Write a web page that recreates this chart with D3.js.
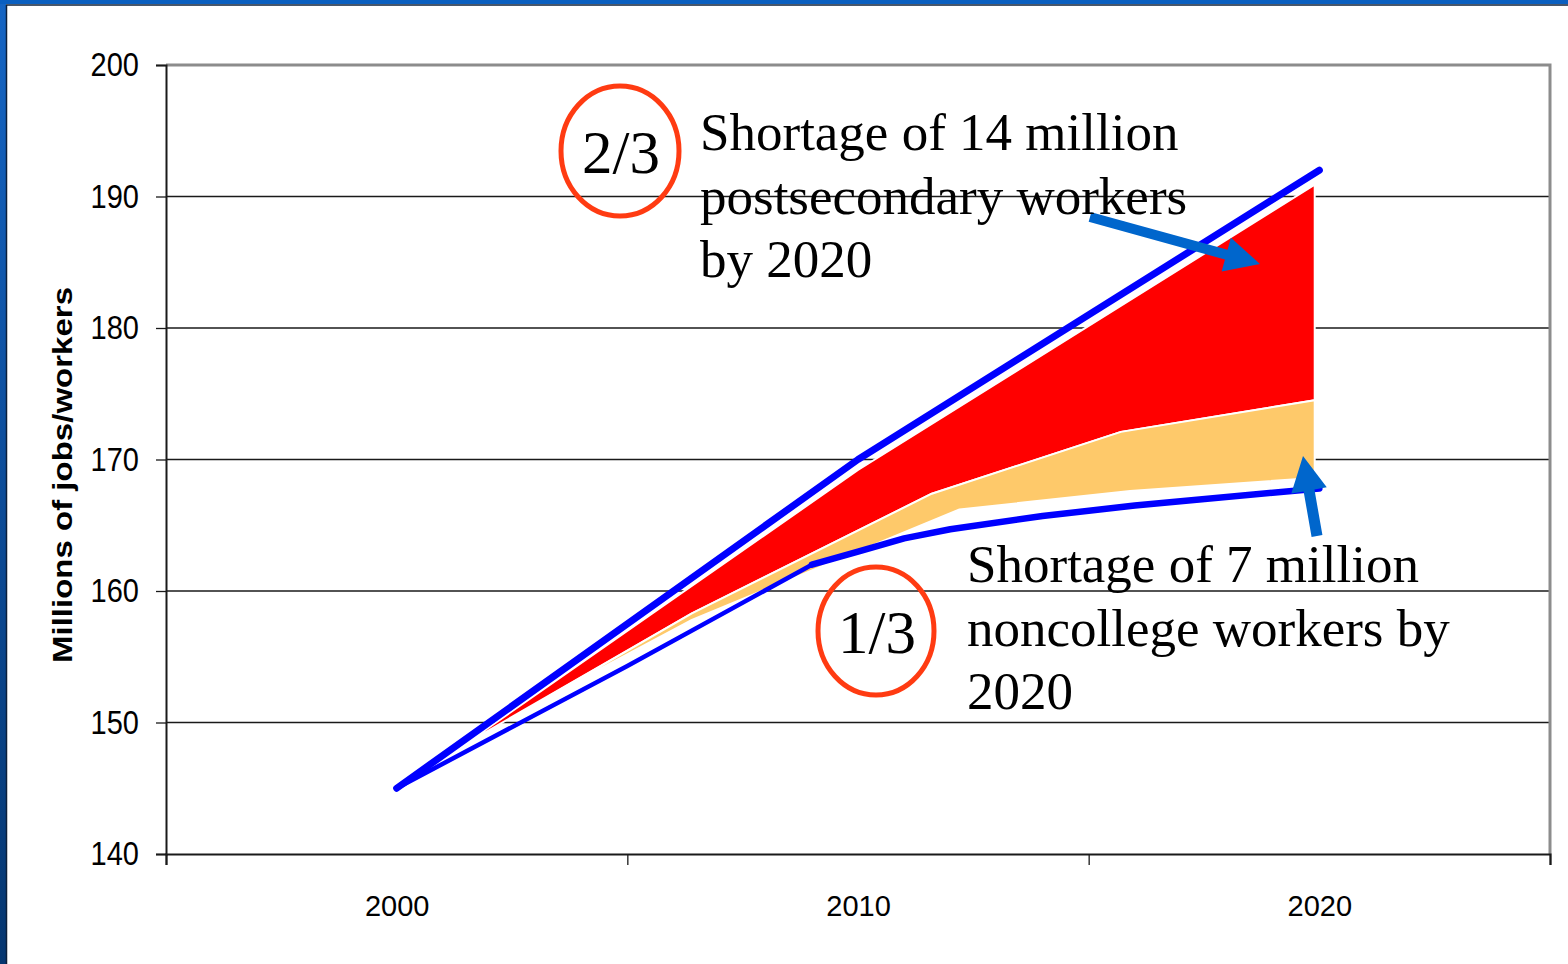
<!DOCTYPE html>
<html>
<head>
<meta charset="utf-8">
<script src="https://cdn.jsdelivr.net/npm/d3@7"></script>
<style>
  html, body { margin: 0; padding: 0; background: #ffffff; overflow: hidden; }
  svg { display: block; }
</style>
</head>
<body>
<svg id="chart" width="1568" height="964"></svg>
<script>
// ---- data -------------------------------------------------------------
const yearTicks  = [1995, 2005, 2015, 2025];      // category boundaries on the x axis
const yearLabels = [2000, 2010, 2020];            // category labels
const valueTicks = [140, 150, 160, 170, 180, 190, 200];

// projected jobs (upper blue line)
const jobsYears  = [2000, 2010, 2020];
const jobsValues = [145, 170, 192];

// projected workers (lower blue line)
const workersYears  = [2000, 2005, 2009, 2010, 2011, 2012, 2014, 2016, 2020];
const workersValues = [145, 154.3, 162, 163, 164, 164.7, 165.7, 166.5, 167.8];

// postsecondary shortage band (red)
const redTopYears    = [2001.5, 2010, 2019.9];
const redTopValues   = [148.4, 169.2, 190.9];
const redBottomYears  = [2001.5, 2006.4, 2011.6, 2015.7, 2019.9];
const redBottomValues = [148.4, 158.3, 167.4, 172.1, 174.5];

// noncollege shortage band (orange)
const orangeTopYears    = [2003.3, 2006.4, 2011.6, 2015.7, 2019.9];
const orangeTopValues   = [152.0, 158.3, 167.4, 172.1, 174.5];
const orangeBottomYears  = [2003.3, 2006.4, 2012.2, 2015.9, 2019.9];
const orangeBottomValues = [152.0, 157.8, 166.2, 167.6, 168.6];

const yAxisTitle = "Millions of jobs/workers";
const note1 = ["Shortage of 14 million", "postsecondary workers", "by 2020"];
const note2 = ["Shortage of 7 million", "noncollege workers by", "2020"];

// ---- layout -----------------------------------------------------------
const svg = d3.select("#chart");
const W = 1568, H = 964;
const plot = { left: 166, right: 1550, top: 65, bottom: 854 };

const x = d3.scaleLinear().domain([1995, 2025]).range([plot.left, plot.right]);
const y = d3.scaleLinear().domain([140, 200]).range([plot.bottom, plot.top]);

const zip = (xs, vs) => xs.map((yr, i) => [yr, vs[i]]);

// ---- slide frame ------------------------------------------------------
const defs = svg.append("defs");
const grad = defs.append("linearGradient").attr("id", "sideGrad")
  .attr("x1", 0).attr("y1", 0).attr("x2", 0).attr("y2", 1);
grad.append("stop").attr("offset", "0%").attr("stop-color", "#1565c4");
grad.append("stop").attr("offset", "45%").attr("stop-color", "#0d4f9e");
grad.append("stop").attr("offset", "100%").attr("stop-color", "#053670");

svg.append("rect").attr("x", 0).attr("y", 0).attr("width", W).attr("height", H).attr("fill", "#ffffff");
svg.append("rect").attr("x", 0).attr("y", 0).attr("width", 6).attr("height", H).attr("fill", "url(#sideGrad)");
svg.append("rect").attr("x", 0).attr("y", 0).attr("width", W).attr("height", 4).attr("fill", "#0a5fc0");
svg.append("line").attr("x1", 6).attr("x2", W).attr("y1", 5).attr("y2", 5)
  .attr("stroke", "#0b1f3a").attr("stroke-width", 1.5);
svg.append("line").attr("x1", 6.5).attr("x2", 6.5).attr("y1", 5).attr("y2", H)
  .attr("stroke", "#0b1f3a").attr("stroke-width", 1.5);

// ---- grid & frame -----------------------------------------------------
const grid = svg.append("g");
grid.selectAll("line.grid")
  .data(valueTicks.filter(v => v > 140 && v < 200))
  .join("line")
  .attr("class", "grid")
  .attr("x1", plot.left).attr("x2", plot.right)
  .attr("y1", d => y(d)).attr("y2", d => y(d))
  .attr("stroke", "#1a1a1a").attr("stroke-width", 1.3);

// top and right plot border (grey)
svg.append("path")
  .attr("d", `M${plot.left},${y(200)}H${plot.right}V${plot.bottom}`)
  .attr("fill", "none").attr("stroke", "#8c8c8c").attr("stroke-width", 3);

// ---- y axis -----------------------------------------------------------
const yAxis = d3.axisLeft(y).tickValues(valueTicks).tickSize(10).tickPadding(17)
  .tickFormat(d3.format("d"));
const gy = svg.append("g").attr("transform", `translate(${plot.left},0)`).call(yAxis);
gy.select(".domain").attr("stroke", "#1a1a1a").attr("stroke-width", 2);
gy.selectAll(".tick line").attr("stroke", "#1a1a1a").attr("stroke-width", 1.3);
gy.selectAll(".tick text")
  .attr("font-family", "Liberation Sans, Arial, sans-serif")
  .attr("font-size", 29).attr("fill", "#000")
  .attr("transform", "scale(1,1.15)");

// ---- x axis -----------------------------------------------------------
const xAxis = d3.axisBottom(x).tickValues(yearTicks).tickSize(11).tickFormat("");
const gx = svg.append("g").attr("transform", `translate(0,${plot.bottom})`).call(xAxis);
gx.select(".domain").attr("stroke", "#1a1a1a").attr("stroke-width", 2.2);
gx.selectAll(".tick line").attr("stroke", "#1a1a1a").attr("stroke-width", 1.3);

const xLab = d3.axisBottom(x).tickValues(yearLabels).tickSize(0).tickPadding(41)
  .tickFormat(d3.format("d"));
const gxl = svg.append("g").attr("transform", `translate(0,${plot.bottom})`).call(xLab);
gxl.select(".domain").remove();
gxl.selectAll(".tick text")
  .attr("font-family", "Liberation Sans, Arial, sans-serif")
  .attr("font-size", 29).attr("fill", "#000");

// y axis title
svg.append("text")
  .attr("transform", `translate(72,${(287 + 663) / 2}) rotate(-90)`)
  .attr("text-anchor", "middle")
  .attr("font-family", "Liberation Sans, Arial, sans-serif")
  .attr("font-weight", "bold")
  .attr("font-size", 27)
  .attr("textLength", 376).attr("lengthAdjust", "spacingAndGlyphs")
  .attr("fill", "#000")
  .text(yAxisTitle);

// ---- bands ------------------------------------------------------------
const poly = d3.line().x(d => x(d[0])).y(d => y(d[1])).curve(d3.curveLinearClosed);
const band = (topXs, topVs, botXs, botVs) =>
  zip(topXs, topVs).concat(zip(botXs, botVs).reverse());

svg.append("path")
  .attr("d", poly(band(redTopYears, redTopValues, redBottomYears, redBottomValues)))
  .attr("fill", "#ff0000").attr("stroke", "#ffffff").attr("stroke-width", 2)
  .attr("stroke-linejoin", "round");

svg.append("path")
  .attr("d", poly(band(orangeTopYears, orangeTopValues, orangeBottomYears, orangeBottomValues)))
  .attr("fill", "#fec96a").attr("stroke", "#ffffff").attr("stroke-width", 2)
  .attr("stroke-linejoin", "round");

// ---- lines ------------------------------------------------------------
const line = d3.line().x(d => x(d[0])).y(d => y(d[1]));
const workers = zip(workersYears, workersValues);

svg.append("path")
  .attr("d", line(workers.filter(d => d[0] <= 2009)))
  .attr("fill", "none").attr("stroke", "#0000ff").attr("stroke-width", 4.5)
  .attr("stroke-linecap", "round").attr("stroke-linejoin", "round");
svg.append("path")
  .attr("d", line(workers.filter(d => d[0] >= 2009)))
  .attr("fill", "none").attr("stroke", "#0000ff").attr("stroke-width", 6.5)
  .attr("stroke-linecap", "round").attr("stroke-linejoin", "round");

svg.append("path")
  .attr("d", line(zip(jobsYears, jobsValues)))
  .attr("fill", "none").attr("stroke", "#0000ff").attr("stroke-width", 7)
  .attr("stroke-linecap", "round").attr("stroke-linejoin", "round");

// ---- annotations ------------------------------------------------------
function arrow(x0, y0, x1, y1, shaft, headLen, headW) {
  const dx = x1 - x0, dy = y1 - y0, L = Math.hypot(dx, dy);
  const ux = dx / L, uy = dy / L, nx = -uy, ny = ux;
  const bx = x1 - ux * headLen, by = y1 - uy * headLen;
  const pts = [
    [x0 + nx * shaft / 2, y0 + ny * shaft / 2],
    [bx + nx * shaft / 2, by + ny * shaft / 2],
    [bx + nx * headW / 2, by + ny * headW / 2],
    [x1, y1],
    [bx - nx * headW / 2, by - ny * headW / 2],
    [bx - nx * shaft / 2, by - ny * shaft / 2],
    [x0 - nx * shaft / 2, y0 - ny * shaft / 2]
  ];
  svg.append("path").attr("d", "M" + pts.map(p => p.join(",")).join("L") + "Z")
    .attr("fill", "#0066cc");
}
arrow(1090, 217, 1260, 264, 10, 35, 35);
arrow(1317, 536, 1303, 456, 11, 35, 36);

const serif = "Liberation Serif, 'Times New Roman', serif";

function ring(cx, cy, rx, ry, label) {
  svg.append("ellipse").attr("cx", cx).attr("cy", cy).attr("rx", rx).attr("ry", ry)
    .attr("fill", "none").attr("stroke", "#ff3b12").attr("stroke-width", 5);
  svg.append("text").attr("x", cx + 1).attr("y", cy + 22)
    .attr("text-anchor", "middle").attr("font-family", serif)
    .attr("font-size", 61).attr("fill", "#000").text(label);
}
ring(620, 151, 59, 65, "2/3");
ring(876, 631, 58, 64, "1/3");

function note(lines, x0, y0) {
  svg.append("g").selectAll("text").data(lines).join("text")
    .attr("x", x0).attr("y", (d, i) => y0 + i * 63.5)
    .attr("font-family", serif).attr("font-size", 53).attr("fill", "#000")
    .text(d => d);
}
note(note1, 700, 150);
note(note2, 967, 582);
</script>
</body>
</html>
